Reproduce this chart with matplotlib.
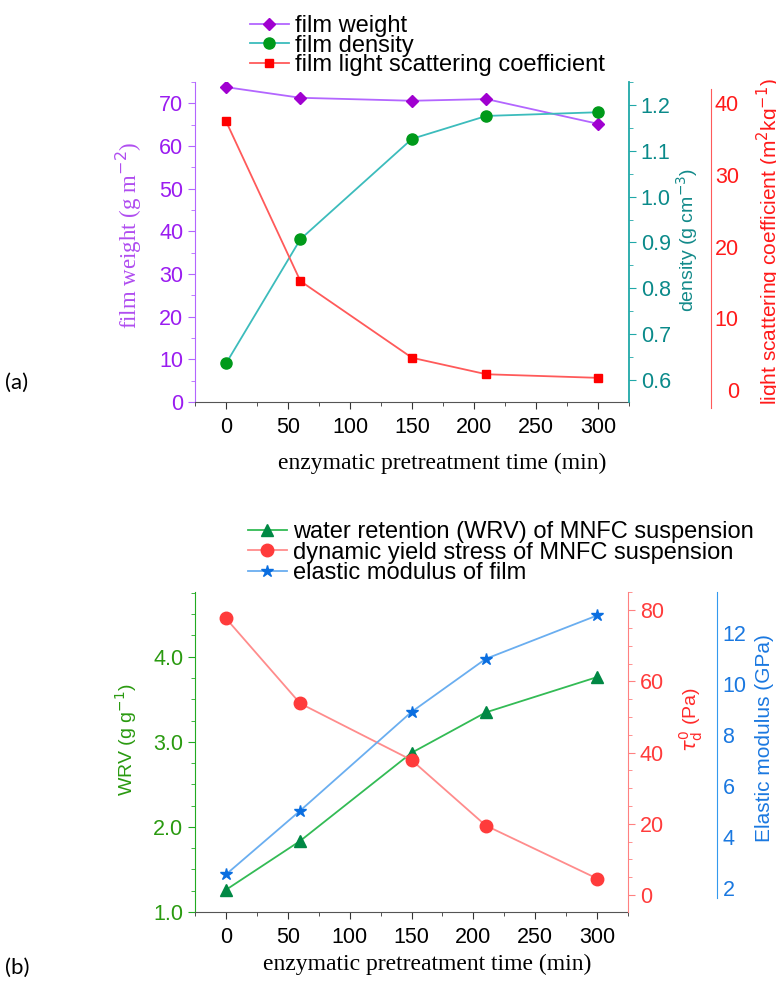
import matplotlib.pyplot as plt
from matplotlib.ticker import MultipleLocator, FormatStrFormatter

plt.rcParams['font.family'] = ['Liberation Sans', 'DejaVu Sans']

# dane - panel (a)
czas = [0, 60, 150, 210, 300]
gramatura = [73.8, 71.3, 70.6, 71.0, 65.2]
gestosc = [0.636, 0.907, 1.126, 1.176, 1.184]
rozpraszanie = [37.5, 15.2, 4.5, 2.2, 1.7]

# dane - panel (b)
wrv = [1.26, 1.835, 2.87, 3.345, 3.76]
naprezenie = [77.7, 53.8, 37.9, 19.5, 4.6]
modul = [2.53, 5.03, 8.9, 10.98, 12.68]

xticks = [0, 50, 100, 150, 200, 250, 300]

W, H = 776, 981
fig = plt.figure(figsize=(W / 100, H / 100), dpi=100)

def box(l, r, t, b):
    return [l / W, 1 - b / H, (r - l) / W, (b - t) / H]

TS = 15.5    # tick labels
serif = 'Liberation Serif'


def os_x(ax):
    ax.set_xlim(-25, 325)
    ax.set_xticks(xticks)
    ax.xaxis.set_minor_locator(MultipleLocator(25))
    ax.tick_params(axis='x', which='major', direction='out', length=5,
                   labelsize=TS, colors='#333333', labelcolor='black', pad=6)
    ax.tick_params(axis='x', which='minor', direction='out', length=3, colors='#333333')
    ax.spines['bottom'].set_color('#555555')
    ax.spines['top'].set_visible(False)
    ax.set_xlabel('enzymatic pretreatment time (min)', family=serif, fontsize=17)


def kolor_osi(ax, side, c_line, c_lab):
    ax.spines[side].set_color(c_line)
    ax.tick_params(axis='y', which='both', colors=c_line, labelcolor=c_lab,
                   direction='out', labelsize=TS)
    ax.tick_params(axis='y', which='major', length=5)
    ax.tick_params(axis='y', which='minor', length=3)


# ---------- (a) ----------
ax1 = fig.add_axes(box(195, 629, 82, 402))
ax1.spines['right'].set_visible(False)
os_x(ax1)
ax1.xaxis.set_label_coords(0.57, -0.158)

l1, = ax1.plot(czas, gramatura, color='#b366ff', lw=1.3, marker='D', ms=6,
               mfc='#a000d0', mec='#a000d0', label='film weight', zorder=3)
ax1.set_ylim(0, 75)
ax1.yaxis.set_major_locator(MultipleLocator(10))
ax1.yaxis.set_minor_locator(MultipleLocator(5))
kolor_osi(ax1, 'left', '#b366ff', '#9a1cf0')
ax1.set_ylabel('film weight (g m$^{-2}$)', family=serif, fontsize=16.5, color='#b04df0')
ax1.yaxis.set_label_coords(-0.118, 0.52)

ax2 = ax1.twinx()
for s in ['left', 'top', 'bottom']:
    ax2.spines[s].set_visible(False)
l2, = ax2.plot(czas, gestosc, color='#3cbcbc', lw=1.3, marker='o', ms=8,
               mfc='#009a1a', mec='#009a1a', label='film density', zorder=3)
ax2.set_ylim(0.552, 1.25)
ax2.yaxis.set_major_locator(MultipleLocator(0.1))
ax2.yaxis.set_minor_locator(MultipleLocator(0.05))
ax2.yaxis.set_major_formatter(FormatStrFormatter('%.1f'))
ax2.spines['right'].set_linewidth(1.3)
kolor_osi(ax2, 'right', '#20a8a8', '#0a8a8a')
ax2.set_ylabel('density (g cm$^{-3}$)', fontsize=14, color='#138a8a')
ax2.yaxis.set_label_coords(1.105, 0.506)

ax3 = ax1.twinx()
for s in ['left', 'top', 'bottom']:
    ax3.spines[s].set_visible(False)
ax3.spines['right'].set_position(('outward', 82 * 0.72))   # 82 px
l3, = ax3.plot(czas, rozpraszanie, color='#ff5a5a', lw=1.3, marker='s', ms=6,
               mfc='#ff0000', mec='#ff0000', label='film light scattering coefficient', zorder=3)
ax3.set_ylim(-1.67, 42.97)
ax3.spines['right'].set_bounds(-2.5, 42.0)
ax3.spines['right'].set_color('#ff5a5a')
ax3.set_yticks([0, 10, 20, 30, 40])
ax3.tick_params(axis='y', length=0, pad=20, labelsize=TS, labelcolor='#ff1a1a')
for t in ax3.get_yticklabels():
    t.set_ha('right')
ax3.set_ylabel('light scattering coefficient (m$^{2}$kg$^{-1}$)', fontsize=15, color='#ff1a1a')
ax3.yaxis.set_label_coords(1.29, 0.5)

fig.legend([l1, l2, l3], [l.get_label() for l in (l1, l2, l3)],
           loc='upper left', bbox_to_anchor=(250 / W, 1 - 15 / H), frameon=False,
           fontsize=17, handlelength=1.65, handletextpad=0.25, labelspacing=-0.1,
           borderpad=0, borderaxespad=0)
fig.text(5 / W, 1 - 383 / H, '(a)', fontsize=16, family='Lato', va='center')

# ---------- (b) ----------
bx1 = fig.add_axes(box(195, 628, 592, 912))
bx1.spines['right'].set_visible(False)
os_x(bx1)
bx1.xaxis.set_label_coords(0.537, -0.13)

m1, = bx1.plot(czas, wrv, color='#33bb55', lw=1.3, marker='^', ms=8,
               mfc='#008844', mec='#008844', label='water retention (WRV) of MNFC suspension', zorder=3)
bx1.set_ylim(1.0, 4.76)
bx1.yaxis.set_major_locator(MultipleLocator(1.0))
bx1.yaxis.set_minor_locator(MultipleLocator(0.25))
bx1.yaxis.set_major_formatter(FormatStrFormatter('%.1f'))
kolor_osi(bx1, 'left', '#22aa22', '#2a9a10')
bx1.set_ylabel('WRV (g g$^{-1}$)', fontsize=14, color='#2a9a10')
bx1.yaxis.set_label_coords(-0.13, 0.5375)

bx2 = bx1.twinx()
for s in ['left', 'top', 'bottom']:
    bx2.spines[s].set_visible(False)
m2, = bx2.plot(czas, naprezenie, color='#ff8c8c', lw=1.3, marker='o', ms=9,
               mfc='#ff3b3b', mec='#ff3b3b', label='dynamic yield stress of MNFC suspension', zorder=3)
bx2.set_ylim(-4.8, 85.1)
bx2.yaxis.set_major_locator(MultipleLocator(20))
bx2.yaxis.set_minor_locator(MultipleLocator(5))
kolor_osi(bx2, 'right', '#ff8080', '#ff3b3b')
bx2.set_ylabel(r'$\tau_\mathrm{d}^{0}$ (Pa)', fontsize=14, color='#ff2a2a')
bx2.yaxis.set_label_coords(1.115, 0.6)

bx3 = bx1.twinx()
for s in ['left', 'top', 'bottom']:
    bx3.spines[s].set_visible(False)
bx3.spines['right'].set_position(('outward', 89 * 0.72))   # 89 px
m3, = bx3.plot(czas, modul, color='#6aaef0', lw=1.3, marker='*', ms=9,
               mfc='#0a6ee0', mec='#0a6ee0', label='elastic modulus of film', zorder=3)
bx3.set_ylim(1.06, 13.6)
bx3.spines['right'].set_bounds(1.62, 13.6)
bx3.spines['right'].set_color('#3399ee')
bx3.set_yticks([2, 4, 6, 8, 10, 12])
bx3.tick_params(axis='y', length=0, pad=4, labelsize=TS, labelcolor='#1a78e0')
bx3.set_ylabel('Elastic modulus (GPa)', fontsize=15, color='#1a78e0')
bx3.yaxis.set_label_coords(1.293, 0.544)

fig.legend([m1, m2, m3], [l.get_label() for l in (m1, m2, m3)],
           loc='upper left', bbox_to_anchor=(248 / W, 1 - 521 / H), frameon=False,
           fontsize=17, handlelength=1.65, handletextpad=0.25, labelspacing=-0.06,
           borderpad=0, borderaxespad=0)
fig.text(5 / W, 1 - 968 / H, '(b)', fontsize=16, family='Lato', va='center')

fig.savefig('out.png', dpi=100)
